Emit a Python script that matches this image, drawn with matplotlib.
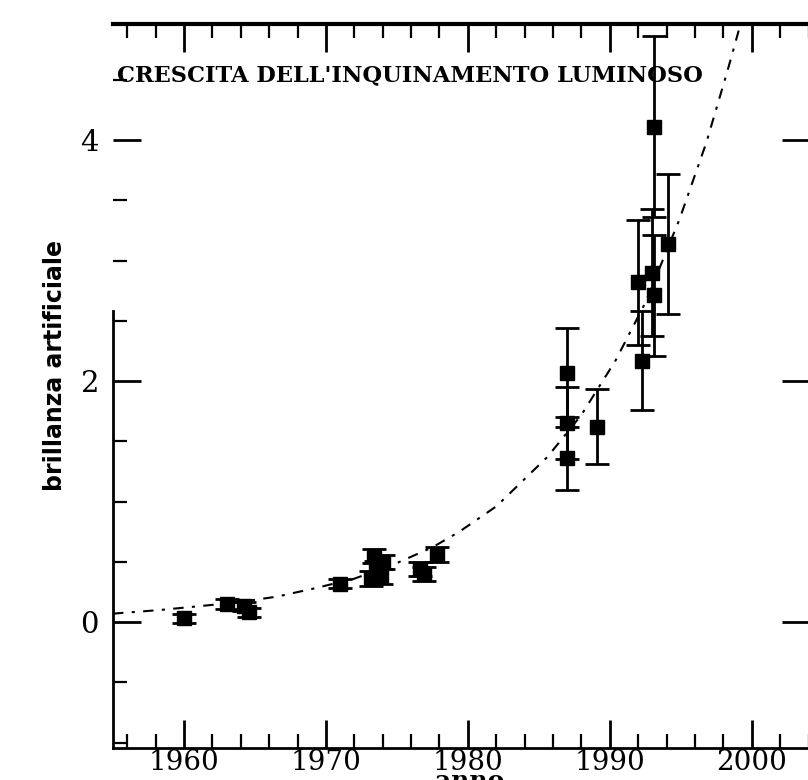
import matplotlib
matplotlib.use('Agg')
import matplotlib.pyplot as plt
from matplotlib.ticker import MultipleLocator

# measured points (year, artificial brightness, error)
years = [1960.0, 1963.0, 1964.2, 1964.6, 1971.0, 1973.2, 1973.4, 1973.5, 1973.9, 1974.0,
         1976.6, 1976.9, 1977.8, 1987.0, 1987.0, 1987.0, 1989.1,
         1992.0, 1992.25, 1993.0, 1993.1, 1993.1, 1994.1]
values = [0.03, 0.15, 0.13, 0.08, 0.32, 0.36, 0.55, 0.45, 0.38, 0.50,
          0.44, 0.40, 0.56, 2.07, 1.65, 1.36, 1.62,
          2.82, 2.17, 2.90, 2.71, 4.11, 3.14]
errors = [0.04, 0.04, 0.04, 0.04, 0.04, 0.06, 0.06, 0.06, 0.06, 0.06,
          0.06, 0.06, 0.06, 0.37, 0.30, 0.26, 0.31,
          0.52, 0.41, 0.53, 0.50, 0.75, 0.58]

# dashed growth curve
curve_years = [1955.0, 1958.3, 1960.9, 1963.5, 1966.5, 1969.2, 1972.0, 1975.0, 1977.5,
               1979.4, 1982.0, 1985.6, 1988.0, 1990.4, 1992.5, 1994.9, 1996.8, 1998.3, 1999.6]
curve_values = [0.07, 0.10, 0.13, 0.16, 0.21, 0.28, 0.36, 0.49, 0.62,
                0.75, 0.96, 1.37, 1.72, 2.17, 2.65, 3.34, 3.98, 4.58, 5.13]

xticks = [1960, 1970, 1980, 1990, 2000]
yticks = [0, 2, 4]
title = "CRESCITA DELL'INQUINAMENTO LUMINOSO"
ylabel = "brillanza artificiale"
xlabel = "anno"

fig = plt.figure(figsize=(8.08, 7.8), dpi=100)
ax = fig.add_axes([113/808, 1-748/780, 697/808, 724/780])

ax.plot(curve_years, curve_values, color='black', lw=1.5, ls=(0, (5, 4, 1.5, 4)))
ax.errorbar(years, values, yerr=errors, fmt='s', color='black', ms=10,
            capsize=8.5, elinewidth=2, capthick=2)

ax.set_xlim(1955, 2004.1)
ax.set_ylim(-1.045, 4.963)

ax.set_xticks(xticks)
ax.set_xticklabels([str(t) for t in xticks], fontfamily='DejaVu Serif', fontsize=20)
ax.set_yticks(yticks)
ax.set_yticklabels([str(t) for t in yticks], fontfamily='DejaVu Serif', fontsize=21)
ax.xaxis.set_minor_locator(MultipleLocator(2))
ax.yaxis.set_minor_locator(MultipleLocator(0.5))
ax.tick_params(which='both', direction='in', top=True, right=True, color='black')
ax.tick_params(which='major', length=20, width=2)
ax.tick_params(which='minor', length=10, width=1.6)
ax.tick_params(axis='y', which='minor', right=False)
ax.tick_params(axis='x', which='major', pad=1)
ax.tick_params(axis='y', which='major', pad=10)

for s in ['left', 'right', 'bottom']:
    ax.spines[s].set_linewidth(2)
ax.spines['top'].set_linewidth(3)
ax.spines['left'].set_bounds(-1.045, 2.58)

ax.text(1955.3, 4.54, title, ha='left', va='center', fontfamily='DejaVu Serif',
        fontweight='bold', fontsize=16.2)

ax.set_ylabel(ylabel, fontfamily='DejaVu Sans', fontweight='bold', fontsize=17)
ax.yaxis.set_label_coords(-0.066, 0.529)
ax.set_xlabel(xlabel, fontfamily='DejaVu Serif', fontweight='bold', fontsize=18)
ax.xaxis.set_label_coords(0.512, -0.046)
ax.xaxis.label.set_va('center')

fig.savefig('out.png', dpi=100)
